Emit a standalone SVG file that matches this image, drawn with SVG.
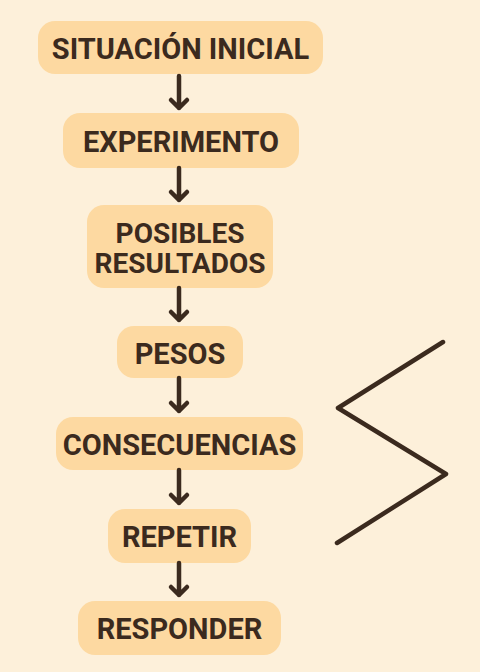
<svg xmlns="http://www.w3.org/2000/svg" width="480" height="672" viewBox="0 0 480 672">
<defs>
<style>
.box{fill:#FDD9A1;}
.t{font-family:Roboto,"Liberation Sans",sans-serif;font-weight:bold;font-size:29px;fill:#3B2A1E;text-anchor:middle;}
.c{stroke:#3B2A1E;stroke-width:4.5;fill:none;stroke-linecap:round;stroke-linejoin:round;}
</style>
</defs>
<rect width="480" height="672" fill="#FDF0DA"/>
<g id="n1"><rect class="box" x="38" y="21" width="285" height="53" rx="17"/><text class="t" x="180.5" y="59">SITUACIÓN INICIAL</text></g>
<g id="n2"><rect class="box" x="63" y="113" width="236" height="55" rx="17"/><text class="t" x="181" y="152">EXPERIMENTO</text></g>
<g id="n3"><rect class="box" x="87" y="205" width="186" height="83" rx="17"/><text class="t" x="180" y="243" style="font-size:28px">POSIBLES</text><text class="t" x="180" y="273" style="font-size:28px">RESULTADOS</text></g>
<g id="n4"><rect class="box" x="117" y="326" width="126" height="52" rx="17"/><text class="t" x="180" y="364">PESOS</text></g>
<g id="n5"><rect class="box" x="56" y="417" width="247" height="53" rx="17"/><text class="t" x="179.5" y="455">CONSECUENCIAS</text></g>
<g id="n6"><rect class="box" x="108" y="509" width="143" height="54" rx="17"/><text class="t" x="179.5" y="547">REPETIR</text></g>
<g id="n7"><rect class="box" x="78" y="601" width="203" height="54" rx="17"/><text class="t" x="179.5" y="639">RESPONDER</text></g>
<g id="connectors">
<path class="c" d="M179 76V108M171 100L179 108L187 100"/>
<path class="c" d="M179 168V200M171 192L179 200L187 192"/>
<path class="c" d="M179 288V320M171 312L179 320L187 312"/>
<path class="c" d="M179 378V411M171 403L179 411L187 403"/>
<path class="c" d="M179 470V503M171 495L179 503L187 495"/>
<path class="c" d="M179 563V595M171 587L179 595L187 587"/>
</g>
<polyline class="c" points="443,342 338,408 446,474 337,543"/>
</svg>
